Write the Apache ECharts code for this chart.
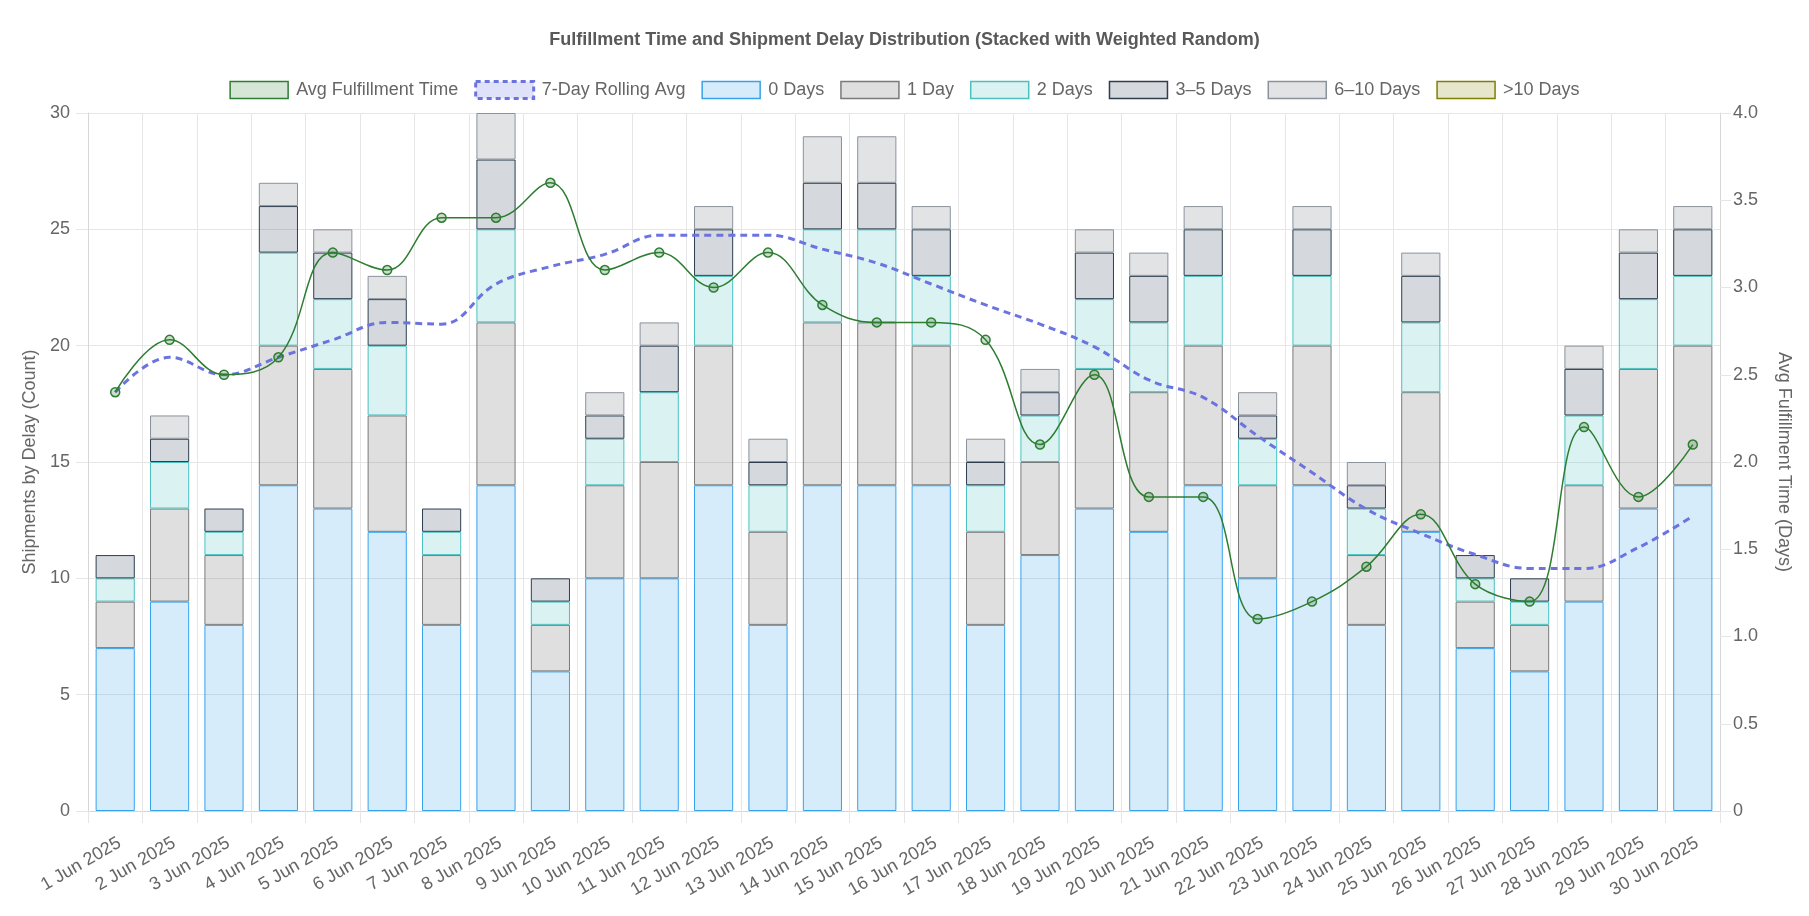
<!DOCTYPE html>
<html>
<head>
<meta charset="utf-8">
<script src="https://cdn.jsdelivr.net/npm/echarts@6/dist/echarts.min.js"></script>
<style>
html,body{margin:0;padding:0;background:#fff;}
#chart{width:1809px;height:916px;}
</style>
</head>
<body>
<div id="chart"></div>
<script>
const categories = ['1 Jun 2025','2 Jun 2025','3 Jun 2025','4 Jun 2025','5 Jun 2025','6 Jun 2025','7 Jun 2025','8 Jun 2025','9 Jun 2025','10 Jun 2025',
  '11 Jun 2025','12 Jun 2025','13 Jun 2025','14 Jun 2025','15 Jun 2025','16 Jun 2025','17 Jun 2025','18 Jun 2025','19 Jun 2025','20 Jun 2025',
  '21 Jun 2025','22 Jun 2025','23 Jun 2025','24 Jun 2025','25 Jun 2025','26 Jun 2025','27 Jun 2025','28 Jun 2025','29 Jun 2025','30 Jun 2025'];

const days0   = [7, 9, 8,14,13,12, 8,14, 6,10,10,14, 8,14,14,14, 8,11,13,12,14,10,14, 8,12, 7, 6, 9,13,14];
const day1    = [2, 4, 3, 6, 6, 5, 3, 7, 2, 4, 5, 6, 4, 7, 7, 6, 4, 4, 6, 6, 6, 4, 6, 3, 6, 2, 2, 5, 6, 6];
const days2   = [1, 2, 1, 4, 3, 3, 1, 4, 1, 2, 3, 3, 2, 4, 4, 3, 2, 2, 3, 3, 3, 2, 3, 2, 3, 1, 1, 3, 3, 3];
const days3to5  = [1, 1, 1, 2, 2, 2, 1, 3, 1, 1, 2, 2, 1, 2, 2, 2, 1, 1, 2, 2, 2, 1, 2, 1, 2, 1, 1, 2, 2, 2];
const days6to10 = [0, 1, 0, 1, 1, 1, 0, 2, 0, 1, 1, 1, 1, 2, 2, 1, 1, 1, 1, 1, 1, 1, 1, 1, 1, 0, 0, 1, 1, 1];
const daysOver10 = [0,0,0,0,0,0,0,0,0,0,0,0,0,0,0,0,0,0,0,0,0,0,0,0,0,0,0,0,0,0];

const avgFulfillment = [2.4,2.7,2.5,2.6,3.2,3.1,3.4,3.4,3.6,3.1,3.2,3.0,3.2,2.9,2.8,2.8,2.7,2.1,2.5,1.8,1.8,1.1,1.2,1.4,1.7,1.3,1.2,2.2,1.8,2.1];
const rollingAvg = [2.4,2.6,2.5,2.6,2.7,2.8,2.79,3.02,3.12,3.19,3.3,3.3,3.3,3.22,3.14,3.02,2.9,2.79,2.66,2.47,2.37,2.15,1.94,1.73,1.59,1.47,1.39,1.39,1.51,1.69];

const leftTicks = [0,5,10,15,20,25,30];
const rightTicks = [0,0.5,1,1.5,2,2.5,3,3.5,4];

const FONT = '"Liberation Sans", Arial, Helvetica, sans-serif';
const TXT = '#666';
const GRID = '#e6e6e6';
const FS = 18;

const barDefs = [
  {name:'0 Days', data:days0, fill:'rgba(54,162,235,0.2)', border:'#36a2eb'},
  {name:'1 Day', data:day1, fill:'rgba(128,128,128,0.25)', border:'#7a7a7a'},
  {name:'2 Days', data:days2, fill:'rgba(75,192,192,0.2)', border:'#4bc0c0'},
  {name:'3–5 Days', data:days3to5, fill:'rgba(44,62,80,0.2)', border:'#2c3e50'},
  {name:'6–10 Days', data:days6to10, fill:'rgba(108,117,125,0.2)', border:'#8a939c'},
  {name:'>10 Days', data:daysOver10, fill:'rgba(128,128,0,0.2)', border:'#808000'}
];

const barSeries = barDefs.map(d => ({
  name: d.name, type: 'bar', stack: 'delay', yAxisIndex: 0,
  barWidth: '72%',
  data: d.data.map(v => v === 0 ? null : v),
  itemStyle: {color: d.fill, borderColor: d.border, borderWidth: 1},
  emphasis: {disabled: true},
  z: 2
}));

const legendData = [
  {name:'Avg Fulfillment Time', itemStyle:{color:'rgba(46,125,50,0.2)', borderColor:'#2e7d32', borderWidth:1.5}},
  {name:'7-Day Rolling Avg', itemStyle:{color:'rgba(102,110,230,0.2)', borderColor:'#6b73e0', borderWidth:3, borderType:[5,4]}}
].concat(barDefs.map(d => ({name:d.name, itemStyle:{color:d.fill, borderColor:d.border, borderWidth:1.5}})));

const option = {
  animation: false,
  backgroundColor: '#fff',
  textStyle: {fontFamily: FONT},
  title: {
    text: 'Fulfillment Time and Shipment Delay Distribution (Stacked with Weighted Random)',
    left: 'center', top: 26,
    textStyle: {fontFamily: FONT, fontSize: FS, fontWeight: 'bold', color: '#595959'}
  },
  legend: {
    top: 75, left: 'center',
    icon: 'rect', itemWidth: 58, itemHeight: 17, itemGap: 16,
    textStyle: {fontFamily: FONT, fontSize: FS, color: TXT, padding: [0,0,0,3]},
    data: legendData
  },
  grid: {left: 88, right: 89, top: 113, bottom: 105, containLabel: false},
  xAxis: {
    type: 'category', data: categories, boundaryGap: true,
    axisLine: {show: true, lineStyle: {color: '#d6d6d6', width: 1}},
    axisTick: {show: true, length: 12, alignWithLabel: false, lineStyle: {color: GRID}},
    splitLine: {show: true, lineStyle: {color: GRID}},
    axisLabel: {rotate: 30, interval: 0, fontSize: FS, color: TXT, fontFamily: FONT, margin: 23, verticalAlign: 'top'}
  },
  yAxis: [
    {
      type: 'value', min: leftTicks[0], max: leftTicks[leftTicks.length-1], interval: 5, position: 'left',
      name: 'Shipments by Delay (Count)', nameLocation: 'middle', nameGap: 49,
      nameTextStyle: {fontFamily: FONT, fontSize: FS, color: TXT},
      axisLine: {show: true, lineStyle: {color: '#d6d6d6'}},
      axisTick: {show: true, length: 12, lineStyle: {color: GRID}},
      splitLine: {show: true, lineStyle: {color: GRID}},
      axisLabel: {fontSize: FS, color: TXT, fontFamily: FONT, margin: 18}
    },
    {
      type: 'value', min: rightTicks[0], max: rightTicks[rightTicks.length-1], interval: 0.5, position: 'right',
      name: 'Avg Fulfillment Time (Days)', nameLocation: 'middle', nameGap: 55, nameRotate: -90,
      nameTextStyle: {fontFamily: FONT, fontSize: FS, color: TXT},
      axisLine: {show: true, lineStyle: {color: '#d6d6d6'}},
      axisTick: {show: true, length: 11, lineStyle: {color: GRID}},
      splitLine: {show: false},
      axisLabel: {fontSize: FS, color: TXT, fontFamily: FONT, margin: 13,
        formatter: v => v === 0 ? '0' : v.toFixed(1)}
    }
  ],
  series: [
    {
      name: 'Avg Fulfillment Time', type: 'line', yAxisIndex: 1, data: avgFulfillment,
      smooth: 0.4, symbol: 'circle', symbolSize: 9, showSymbol: true,
      lineStyle: {color: '#2e7d32', width: 1.5},
      itemStyle: {color: 'rgba(46,125,50,0.25)', borderColor: '#2e7d32', borderWidth: 1.5},
      emphasis: {disabled: true},
      z: 5
    },
    {
      name: '7-Day Rolling Avg', type: 'line', yAxisIndex: 1, data: rollingAvg,
      smooth: 0.4, symbol: 'none', showSymbol: false,
      lineStyle: {color: '#6b73e0', width: 3, type: [7,5]},
      itemStyle: {color: '#6b73e0'},
      emphasis: {disabled: true},
      z: 4
    }
  ].concat(barSeries)
};

const chart = echarts.init(document.getElementById('chart'), null, {renderer: 'canvas'});
chart.setOption(option);
</script>
</body>
</html>
